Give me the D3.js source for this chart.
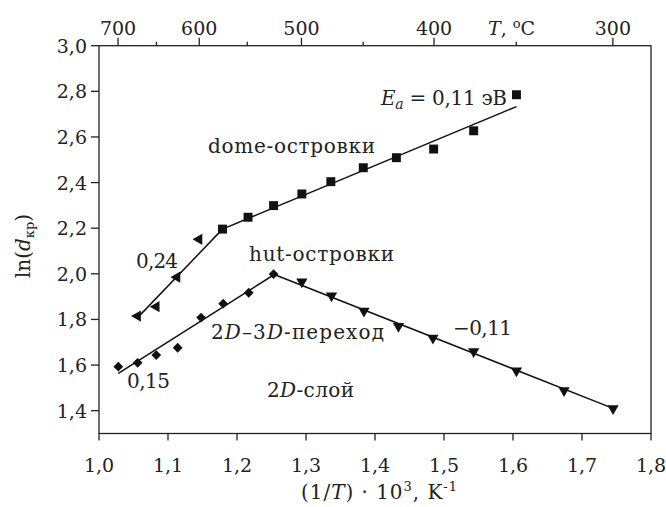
<!DOCTYPE html>
<html><head><meta charset="utf-8">
<script src="https://cdn.jsdelivr.net/npm/d3@7"></script>
<style>body{margin:0;background:#fff}svg{display:block}</style>
</head><body><svg id="c" width="666" height="507" font-family="'DejaVu Serif', serif"></svg>
<script>
// data
const domeX = [1.179,1.216,1.253,1.294,1.336,1.383,1.431,1.485,1.543,1.605];
const domeY = [2.196,2.248,2.299,2.350,2.404,2.465,2.509,2.547,2.627,2.785];
const leftTriX = [1.056,1.083,1.113,1.145];
const leftTriY = [1.815,1.856,1.985,2.151];
const hutX = [1.028,1.056,1.083,1.114,1.148,1.180,1.217,1.253];
const hutY = [1.593,1.610,1.644,1.676,1.808,1.869,1.917,1.999];
const downTriX = [1.294,1.337,1.384,1.434,1.484,1.543,1.605,1.674,1.745];
const downTriY = [1.965,1.904,1.837,1.770,1.719,1.659,1.575,1.488,1.410];
const fitDome = [[1.179,2.196],[1.605,2.733]];
const fitLeft = [[1.056,1.808],[1.179,2.196]];
const fitHut = [[1.028,1.564],[1.254,1.997]];
const fitDown = [[1.254,1.997],[1.745,1.410]];
const xTicks = [1.0,1.1,1.2,1.3,1.4,1.5,1.6,1.7,1.8];
const yTicks = [1.4,1.6,1.8,2.0,2.2,2.4,2.6,2.8,3.0];
const topMajorC = [700,600,500,400,300];
const topMinorC = [650,550,450,350];

const svg = d3.select("#c");
const L=99,R=651,T=45.7,B=433.5;
const x = d3.scaleLinear().domain([1.0,1.8]).range([L,R]);
const y = d3.scaleLinear().domain([1.3,3.0]).range([B,T]);
const fmt = d => d.toFixed(1).replace(".", ",");
const inv = c => 1000/(c+273.15);
const FS = 19, LFS = 20;
const INK = "#222";

function fitWidth(t, w){
  const n = t.text().length;
  const cur = t.node().getComputedTextLength();
  if(n>1) t.attr("letter-spacing", ((w-cur)/(n-1)).toFixed(2));
}

// frame
svg.append("rect").attr("x",L).attr("y",T).attr("width",R-L).attr("height",B-T)
  .attr("fill","none").attr("stroke",INK).attr("stroke-width",1.3);

// bottom axis
xTicks.forEach(v=>{
  svg.append("line").attr("x1",x(v)).attr("x2",x(v)).attr("y1",B).attr("y2",B+7).attr("stroke",INK).attr("stroke-width",1.3);
  svg.append("text").attr("x",x(v)).attr("y",B+38).attr("text-anchor","middle").attr("font-size",FS).attr("fill",INK).text(fmt(v));
});
// left axis
yTicks.forEach(v=>{
  svg.append("line").attr("x1",L-8).attr("x2",L).attr("y1",y(v)).attr("y2",y(v)).attr("stroke",INK).attr("stroke-width",1.3);
  svg.append("text").attr("x",L-12).attr("y",y(v)+7).attr("text-anchor","end").attr("font-size",FS).attr("fill",INK).text(fmt(v));
});
// top axis
topMajorC.forEach(c=>{
  svg.append("line").attr("x1",x(inv(c))).attr("x2",x(inv(c))).attr("y1",T).attr("y2",T-8).attr("stroke",INK).attr("stroke-width",1.3);
  svg.append("text").attr("x",x(inv(c))).attr("y",T-11).attr("text-anchor","middle").attr("font-size",FS).attr("fill",INK).text(c);
});
topMinorC.forEach(c=>{
  svg.append("line").attr("x1",x(inv(c))).attr("x2",x(inv(c))).attr("y1",T).attr("y2",T-4).attr("stroke",INK).attr("stroke-width",1.3);
});
const tl = svg.append("text").attr("x",488).attr("y",T-11).attr("font-size",FS).attr("fill",INK);
tl.append("tspan").attr("font-style","italic").text("T");
tl.append("tspan").text(", ");
tl.append("tspan").attr("font-size",13).attr("dy",-7).text("o");
tl.append("tspan").attr("dy",7).text("C");

// axis titles
const xt = svg.append("text").attr("x",301).attr("y",499).attr("font-size",LFS).attr("fill",INK);
xt.append("tspan").text("(1/");
xt.append("tspan").attr("font-style","italic").text("T");
xt.append("tspan").text(") · 10");
xt.append("tspan").attr("font-size",13).attr("dy",-8).text("3");
xt.append("tspan").attr("dy",8).text(", K");
xt.append("tspan").attr("font-size",13).attr("dy",-8).text("-1");
fitWidth(xt,156);

const yt = svg.append("text").attr("transform","translate(30,246) rotate(-90)").attr("text-anchor","middle").attr("font-size",LFS).attr("fill",INK);
yt.append("tspan").text("ln(");
yt.append("tspan").attr("font-style","italic").text("d");
yt.append("tspan").attr("font-size",13).attr("dy",4).text("кр");
yt.append("tspan").attr("dy",-4).text(")");

// fit lines
const line = d3.line().x(d=>x(d[0])).y(d=>y(d[1]));
[fitDome,fitLeft,fitHut,fitDown].forEach(f=>{
  svg.append("path").attr("d",line(f)).attr("fill","none").attr("stroke","#111").attr("stroke-width",1.5);
});

// markers
function pts(xs,ys,type,size,rot){
  const sym = d3.symbol().type(type).size(size);
  svg.append("g").selectAll("path").data(xs.map((v,i)=>[v,ys[i]])).join("path")
    .attr("d",sym).attr("fill","#111")
    .attr("transform",d=>`translate(${x(d[0])},${y(d[1])}) rotate(${rot})`);
}
pts(domeX,domeY,d3.symbolSquare,80,0);
pts(leftTriX,leftTriY,d3.symbolTriangle,55,-90);
pts(hutX,hutY,d3.symbolSquare,48,45);
pts(downTriX,downTriY,d3.symbolTriangle,55,180);

// annotations
function lab(xp,yp,parts,w){
  const t = svg.append("text").attr("x",xp).attr("y",yp).attr("font-size",LFS).attr("fill",INK);
  parts.forEach(p=>{
    const s=t.append("tspan").text(p[0]);
    if(p[1]==="i") s.attr("font-style","italic");
    if(p[1]==="sub") s.attr("font-style","italic").attr("font-size",14).attr("dy",4);
    if(p[1]==="back") s.attr("dy",-4);
  });
  if(w) fitWidth(t,w);
  return t;
}
lab(381,105,[["E","i"],["a","sub"],[" = 0,11 эВ","back"]],126);
lab(208,153,[["dome-островки"]],167);
lab(249,261,[["hut-островки"]],145);
lab(136,268,[["0,24"]],42);
lab(127,388,[["0,15"]],43);
lab(211,339,[["2","n"],["D","i"],["–3","n"],["D","i"],["-переход","n"]],173);
lab(267,397,[["2","n"],["D","i"],["-слой","n"]],87);
lab(453,335,[["−0,11"]],59);
</script></body></html>
